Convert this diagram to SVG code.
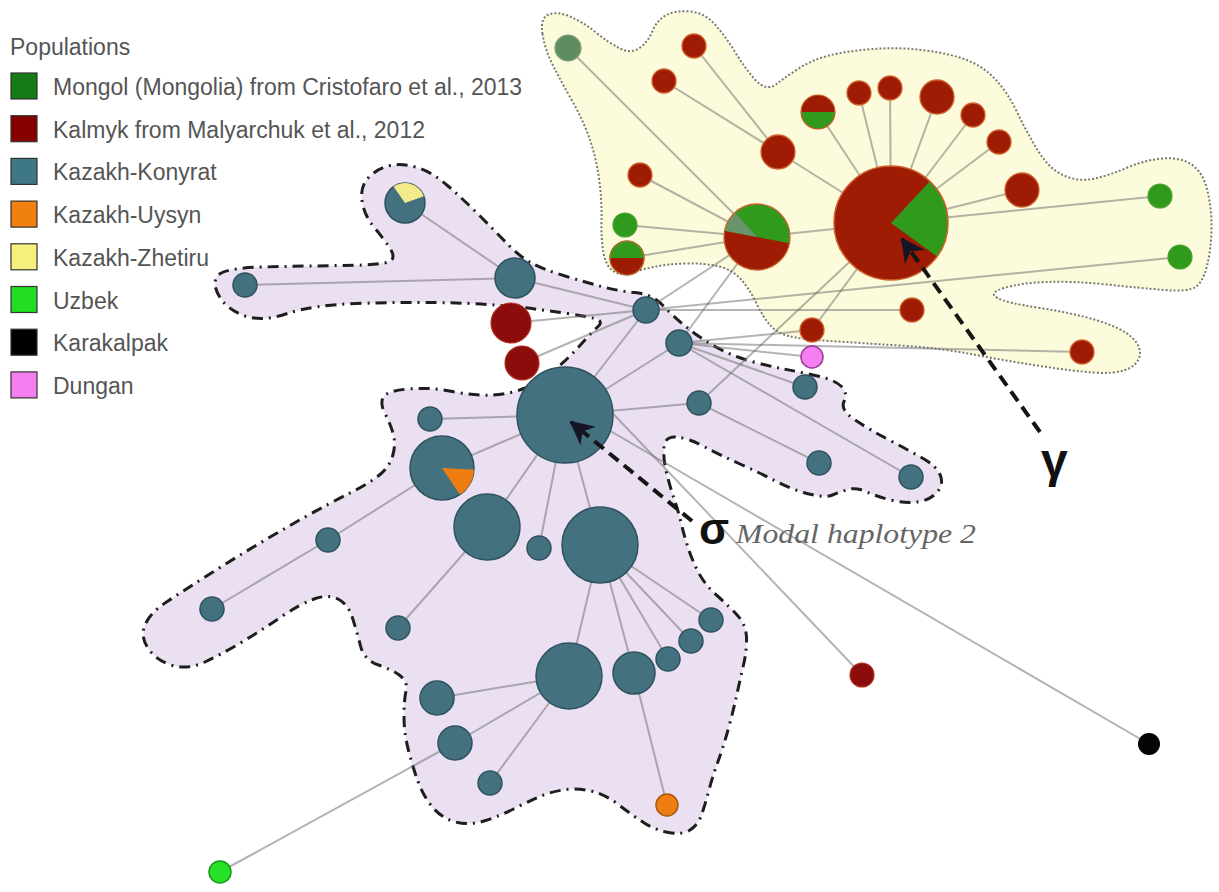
<svg xmlns="http://www.w3.org/2000/svg" width="1219" height="892" viewBox="0 0 1219 892">
<style>
.lg{font-family:"Liberation Sans",Arial,sans-serif;font-size:23px;fill:#555}
.sq{stroke:#333;stroke-width:1.2}
.edge{stroke:rgba(105,105,105,0.5);stroke-width:2;fill:none}
.kb{fill:#44717f;stroke:#2e5260;stroke-width:1.5}
.kr{fill:#9e1c03;stroke:#d0602a;stroke-width:1.3}
.kd{fill:#8c0c0c;stroke:#b03020;stroke-width:1.2}
.mg{fill:#2f9a1c;stroke:#4aa332;stroke-width:1.2}
.arr{stroke:#151515;stroke-width:4;stroke-dasharray:12 7;fill:none}
</style>
<defs>
<marker id="ah" viewBox="0 0 12 12" markerUnits="userSpaceOnUse" markerWidth="24" markerHeight="24" refX="11" refY="6" orient="auto">
<path d="M0,0 L12,6 L0,12 L3.5,6 Z" fill="#151525"/>
</marker>
</defs>
<rect width="1219" height="892" fill="#ffffff"/>

<g id="legend">
<text class="lg" x="10" y="55">Populations</text>
<rect class="sq" x="11" y="73" width="26" height="26" fill="#167a16"/>
<text class="lg" x="53" y="95">Mongol (Mongolia) from Cristofaro et al., 2013</text>
<rect class="sq" x="11" y="115.7" width="26" height="26" fill="#870000"/>
<text class="lg" x="53" y="137.7">Kalmyk from Malyarchuk et al., 2012</text>
<rect class="sq" x="11" y="158.4" width="26" height="26" fill="#3e7786"/>
<text class="lg" x="53" y="180.4">Kazakh-Konyrat</text>
<rect class="sq" x="11" y="201.1" width="26" height="26" fill="#f08010"/>
<text class="lg" x="53" y="223.1">Kazakh-Uysyn</text>
<rect class="sq" x="11" y="243.8" width="26" height="26" fill="#f6f07c"/>
<text class="lg" x="53" y="265.8">Kazakh-Zhetiru</text>
<rect class="sq" x="11" y="286.5" width="26" height="26" fill="#22dd22"/>
<text class="lg" x="53" y="308.5">Uzbek</text>
<rect class="sq" x="11" y="329.2" width="26" height="26" fill="#000000"/>
<text class="lg" x="53" y="351.2">Karakalpak</text>
<rect class="sq" x="11" y="371.9" width="26" height="26" fill="#f47ff0"/>
<text class="lg" x="53" y="393.9">Dungan</text>
</g>

<g id="hull-mongol-kalmyk">
<path d="M542.5,34 Q540,18 548.5,14.5 Q557,11 570,16.5 Q583,22 596,32.5 Q609,43 620,48.5 Q631,54 639.5,48 Q648,42 652.5,31 Q657,20 666.5,15 Q676,10 690.5,11.5 Q705,13 715.5,25 Q726,37 735,52 Q744,67 755,79.5 Q766,92 776.5,84 Q787,76 799.5,68 Q812,60 829,55.5 Q846,51 873,49 Q900,47 926,50.5 Q952,54 968,60.5 Q984,67 996,80 Q1008,93 1017.5,113 Q1027,133 1038.5,151.5 Q1050,170 1065,176 Q1080,182 1095,178.5 Q1110,175 1127.5,167.5 Q1145,160 1162.5,158.5 Q1180,157 1191.5,164.5 Q1203,172 1207.5,191 Q1212,210 1211.5,230 Q1211,250 1207,266 Q1203,282 1195.5,287 Q1188,292 1164,290 Q1140,288 1106.5,284.5 Q1073,281 1046.5,282 Q1020,283 1004,288 Q988,293 997.5,298 Q1007,303 1040,308 Q1073,313 1097.5,320.5 Q1122,328 1132,337.5 Q1142,347 1139.5,356.5 Q1137,366 1125,370 Q1113,374 1093,372.5 Q1073,371 1040,366 Q1007,361 973.5,354.5 Q940,348 900,345.5 Q860,343 830,341 Q800,339 788.5,336 Q777,333 770,325 Q763,317 756.5,303.5 Q750,290 741.5,280 Q733,270 719,266.5 Q705,263 686,263.5 Q667,264 653.5,267 Q640,270 630,273 Q620,276 613,271 Q606,266 603.5,253 Q601,240 601.5,220 Q602,200 599,178.5 Q596,157 589.5,138.5 Q583,120 572.5,101.5 Q562,83 553.5,66.5 Q545,50 542.5,34 Z" fill="#fcfcdc" stroke="#7a7a72" stroke-width="2" stroke-dasharray="2 2"/>
</g>

<g id="hull-kazakh">
<path d="M220,297.5 Q212,285 217,276.5 Q222,268 262.5,267 Q303,266 344,265.5 Q385,265 390.5,261 Q396,257 389.5,247.5 Q383,238 373.5,226.5 Q364,215 362,200.5 Q360,186 369,177 Q378,168 390,165.5 Q402,163 417,167.5 Q432,172 448,186 Q464,200 480,216 Q496,232 508,244.5 Q520,257 532.5,263.5 Q545,270 565,276 Q585,282 601.5,286.5 Q618,291 635,292.5 Q652,294 663.5,306 Q675,318 687.5,328 Q700,338 716,347 Q732,356 750,361 Q768,366 784,369 Q800,372 817.5,376 Q835,380 841.5,386.5 Q848,393 844,401.5 Q840,410 855,420 Q870,430 891,441 Q912,452 924,459 Q936,466 940,474.5 Q944,483 938,491 Q932,499 920,501.5 Q908,504 893,500.5 Q878,497 867,492 Q856,487 848,489.5 Q840,492 832.5,495 Q825,498 809,494 Q793,490 776.5,481.5 Q760,473 740,464 Q720,455 704,446.5 Q688,438 676.5,437 Q665,436 664,447 Q663,458 666.5,472.5 Q670,487 674,498.5 Q678,510 681,522.5 Q684,535 688,547.5 Q692,560 698.5,572.5 Q705,585 717.5,596 Q730,607 738,616 Q746,625 746.5,637.5 Q747,650 743.5,665 Q740,680 736.5,696 Q733,712 728,730 Q723,748 718,761.5 Q713,775 709,790 Q705,805 701.5,815 Q698,825 690,830 Q682,835 668.5,832.5 Q655,830 643.5,822.5 Q632,815 619,805 Q606,795 593,791.5 Q580,788 566.5,789.5 Q553,791 540,796.5 Q527,802 513.5,809 Q500,816 484,821 Q468,826 454,821.5 Q440,817 431.5,806 Q423,795 418,781.5 Q413,768 408.5,750.5 Q404,733 404,716.5 Q404,700 406,691 Q408,682 400.5,676 Q393,670 378.5,665 Q364,660 360.5,646 Q357,632 352.5,618 Q348,604 338,599 Q328,594 314,599 Q300,604 281,617 Q262,630 242,642 Q222,654 205,662 Q188,670 172.5,665.5 Q157,661 148.5,649 Q140,637 145,625 Q150,613 165,603 Q180,593 205,577 Q230,561 255,546 Q280,531 305,517 Q330,503 350,493 Q370,483 380,474.5 Q390,466 393,454.5 Q396,443 393,433 Q390,423 385,413.5 Q380,404 383,397.5 Q386,391 408,389 Q430,387 452.5,391.5 Q475,396 492.5,395 Q510,394 524,388.5 Q538,383 552.5,371.5 Q567,360 579.5,346 Q592,332 598,326.5 Q604,321 594.5,318.5 Q585,316 567.5,313.5 Q550,311 535,309 Q520,307 495,305 Q470,303 435,302.5 Q400,302 356.5,303.5 Q313,305 287.5,313.5 Q262,322 245,316 Q228,310 220,297.5 Z" fill="#ebe0f1" stroke="#1e1e1e" stroke-width="3" stroke-dasharray="11 6 2 6"/>
</g>

<g id="connectors" class="edge">
<line x1="568" y1="48" x2="757" y2="237"/>
<line x1="694" y1="46" x2="778" y2="152"/>
<line x1="664" y1="81" x2="778" y2="152"/>
<line x1="778" y1="152" x2="891" y2="223"/>
<line x1="640" y1="175" x2="757" y2="237"/>
<line x1="625" y1="225" x2="757" y2="237"/>
<line x1="627" y1="258" x2="757" y2="237"/>
<line x1="757" y1="237" x2="891" y2="223"/>
<line x1="818" y1="112" x2="891" y2="223"/>
<line x1="859" y1="93" x2="891" y2="223"/>
<line x1="890" y1="88" x2="891" y2="223"/>
<line x1="937" y1="97" x2="891" y2="223"/>
<line x1="973" y1="115" x2="891" y2="223"/>
<line x1="999" y1="142" x2="891" y2="223"/>
<line x1="1022" y1="190" x2="891" y2="223"/>
<line x1="1160" y1="196" x2="891" y2="223"/>
<line x1="812" y1="330" x2="891" y2="223"/>
<line x1="1180" y1="257" x2="646" y2="310"/>
<line x1="912" y1="310" x2="646" y2="310"/>
<line x1="1082" y1="352" x2="679" y2="343"/>
<line x1="812" y1="357" x2="679" y2="343"/>
<line x1="812" y1="330" x2="679" y2="343"/>
<line x1="646" y1="310" x2="757" y2="237"/>
<line x1="679" y1="343" x2="757" y2="237"/>
<line x1="699" y1="403" x2="891" y2="223"/>
<line x1="405" y1="203" x2="515" y2="278"/>
<line x1="245" y1="285" x2="515" y2="278"/>
<line x1="515" y1="278" x2="646" y2="310"/>
<line x1="511" y1="323" x2="646" y2="310"/>
<line x1="522" y1="363" x2="646" y2="310"/>
<line x1="565" y1="415" x2="646" y2="310"/>
<line x1="565" y1="415" x2="679" y2="343"/>
<line x1="565" y1="415" x2="699" y2="403"/>
<line x1="565" y1="415" x2="430" y2="419"/>
<line x1="565" y1="415" x2="442" y2="468"/>
<line x1="565" y1="415" x2="487" y2="527"/>
<line x1="565" y1="415" x2="539" y2="548"/>
<line x1="565" y1="415" x2="600" y2="545"/>
<line x1="442" y1="468" x2="328" y2="540"/>
<line x1="328" y1="540" x2="212" y2="609"/>
<line x1="487" y1="527" x2="398" y2="628"/>
<line x1="600" y1="545" x2="569" y2="676"/>
<line x1="600" y1="545" x2="634" y2="673"/>
<line x1="600" y1="545" x2="668" y2="659"/>
<line x1="600" y1="545" x2="691" y2="641"/>
<line x1="600" y1="545" x2="711" y2="620"/>
<line x1="569" y1="676" x2="437" y2="698"/>
<line x1="569" y1="676" x2="455" y2="743"/>
<line x1="569" y1="676" x2="490" y2="783"/>
<line x1="455" y1="743" x2="220" y2="872"/>
<line x1="634" y1="673" x2="667" y2="805"/>
<line x1="679" y1="343" x2="911" y2="477"/>
<line x1="699" y1="403" x2="819" y2="463"/>
<line x1="679" y1="343" x2="805" y2="387"/>
<line x1="600" y1="400" x2="862" y2="675"/>
<line x1="600" y1="425" x2="1149" y2="744"/>
</g>

<g id="n1"><circle cx="568" cy="48" r="13" fill="#5e8e60" stroke="#7aa07a" stroke-width="1.2"/></g>
<g id="n2"><circle class="kr" cx="694" cy="46" r="12"/></g>
<g id="n3"><circle class="kr" cx="664" cy="81" r="12"/></g>
<g id="n4"><circle class="kr" cx="778" cy="152" r="17"/></g>
<g id="n5"><circle class="kr" cx="640" cy="175" r="12"/></g>
<g id="n6"><circle class="mg" cx="625" cy="225" r="12"/></g>
<g id="n7">
<circle class="mg" cx="627" cy="258" r="17"/>
<path d="M610,258 A17,17 0 0,0 644,258 Z" fill="#9e1c03"/>
<circle cx="627" cy="258" r="17" fill="none" stroke="#c8602a" stroke-width="1.2"/>
</g>
<g id="n8">
<circle cx="757" cy="237" r="33" fill="#2f9a1c"/>
<path d="M757,237 L789.4,243.3 A33,33 0 0,1 724.6,230.7 Z" fill="#9e1c03"/>
<path d="M757,237 L724.6,230.7 A33,33 0 0,1 734.9,212.5 Z" fill="#6a946a"/>
<circle cx="757" cy="237" r="33" fill="none" stroke="#c8602a" stroke-width="1.3"/>
</g>
<g id="n9">
<circle cx="891" cy="223" r="57" fill="#9e1c03"/>
<path d="M891,223 L929.9,181.3 A57,57 0 0,1 937.1,256.5 Z" fill="#2f9a1c"/>
<circle cx="891" cy="223" r="57" fill="none" stroke="#d0602a" stroke-width="1.5"/>
</g>
<g id="n10">
<circle cx="818" cy="112" r="17" fill="#9e1c03"/>
<path d="M801,112 A17,17 0 0,0 835,112 Z" fill="#2f9a1c"/>
<circle cx="818" cy="112" r="17" fill="none" stroke="#c8602a" stroke-width="1.2"/>
</g>
<g id="n11"><circle class="kr" cx="859" cy="93" r="12"/></g>
<g id="n12"><circle class="kr" cx="890" cy="88" r="12"/></g>
<g id="n13"><circle class="kr" cx="937" cy="97" r="17"/></g>
<g id="n14"><circle class="kr" cx="973" cy="115" r="12"/></g>
<g id="n15"><circle class="kr" cx="999" cy="142" r="12"/></g>
<g id="n16"><circle class="kr" cx="1022" cy="190" r="17"/></g>
<g id="n17"><circle class="mg" cx="1160" cy="196" r="12"/></g>
<g id="n18"><circle class="mg" cx="1180" cy="257" r="12"/></g>
<g id="n19"><circle class="kr" cx="912" cy="310" r="12"/></g>
<g id="n20"><circle class="kr" cx="812" cy="330" r="12"/></g>
<g id="n21"><circle class="kr" cx="1082" cy="352" r="12"/></g>
<g id="dungan"><circle cx="812" cy="357" r="11" fill="#f47ff0" stroke="#9a3a9a" stroke-width="1.5"/></g>

<g id="zhetiru-pie">
<circle class="kb" cx="405" cy="203" r="20"/>
<path d="M405,203 L393.5,186.6 A20,20 0 0,1 423.8,196.2 Z" fill="#f3ea8c"/>
</g>
<g id="k-left"><circle class="kb" cx="245" cy="285" r="12"/></g>
<g id="k-top"><circle class="kb" cx="515" cy="278" r="20"/></g>
<g id="r1"><circle class="kd" cx="511" cy="323" r="20"/></g>
<g id="r2"><circle class="kd" cx="522" cy="363" r="17"/></g>
<g id="b1"><circle class="kb" cx="646" cy="310" r="13"/></g>
<g id="b2"><circle class="kb" cx="679" cy="343" r="13"/></g>
<g id="b3"><circle class="kb" cx="699" cy="403" r="12"/></g>
<g id="b4"><circle class="kb" cx="805" cy="387" r="12"/></g>
<g id="b5"><circle class="kb" cx="819" cy="463" r="12"/></g>
<g id="b6"><circle class="kb" cx="911" cy="477" r="12"/></g>
<g id="modal2"><circle class="kb" cx="565" cy="415" r="48"/></g>
<g id="s1"><circle class="kb" cx="430" cy="419" r="12"/></g>
<g id="uysyn-pie">
<circle class="kb" cx="442" cy="468" r="32"/>
<path d="M442,468 L474,469.7 A32,32 0 0,1 459.9,494.5 Z" fill="#f07d12"/>
</g>
<g id="bl1"><circle class="kb" cx="487" cy="527" r="33"/></g>
<g id="s2"><circle class="kb" cx="539" cy="548" r="12"/></g>
<g id="bm"><circle class="kb" cx="600" cy="545" r="38"/></g>
<g id="k328"><circle class="kb" cx="328" cy="540" r="12"/></g>
<g id="k212"><circle class="kb" cx="212" cy="609" r="12"/></g>
<g id="k398"><circle class="kb" cx="398" cy="628" r="12"/></g>
<g id="bbl"><circle class="kb" cx="569" cy="676" r="33"/></g>
<g id="k634"><circle class="kb" cx="634" cy="673" r="21"/></g>
<g id="k668"><circle class="kb" cx="668" cy="659" r="12"/></g>
<g id="k691"><circle class="kb" cx="691" cy="641" r="12"/></g>
<g id="k711"><circle class="kb" cx="711" cy="620" r="12"/></g>
<g id="k437"><circle class="kb" cx="437" cy="698" r="17"/></g>
<g id="k455"><circle class="kb" cx="455" cy="743" r="17"/></g>
<g id="k490"><circle class="kb" cx="490" cy="783" r="12"/></g>
<g id="uzbek"><circle cx="220" cy="872" r="11" fill="#27e027" stroke="#1a9a1a" stroke-width="1.5"/></g>
<g id="uysyn"><circle cx="667" cy="805" r="11" fill="#ee7d12" stroke="#a85a10" stroke-width="1.5"/></g>
<g id="kalmyk-lone"><circle class="kd" cx="862" cy="675" r="12"/></g>
<g id="karakalpak"><circle cx="1149" cy="744" r="11" fill="#050505"/></g>

<g id="arrows">
<path class="arr" d="M692,521 L571,422" marker-end="url(#ah)"/>
<path class="arr" d="M1040,432 L902,239" marker-end="url(#ah)"/>
</g>

<g id="labels">
<text x="699" y="544" font-family="Liberation Sans, Arial, sans-serif" font-size="44" font-weight="bold" fill="#111">σ</text>
<text x="736" y="543" font-family="Liberation Serif, Times New Roman, serif" font-size="27" font-style="italic" fill="#666" textLength="240" lengthAdjust="spacingAndGlyphs">Modal haplotype 2</text>
<text x="1041" y="477" font-family="Liberation Sans, Arial, sans-serif" font-size="48" font-weight="bold" fill="#111">γ</text>
</g>
</svg>
